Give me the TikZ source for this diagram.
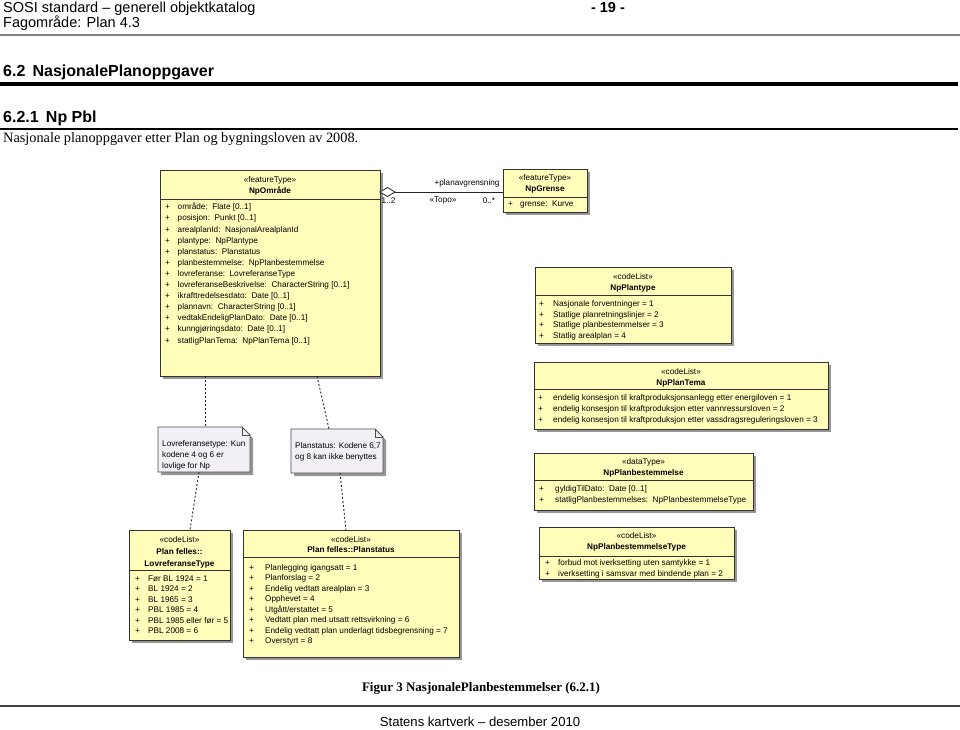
\documentclass[tikz,border=0pt]{standalone}
\usepackage{fontspec}
\setmainfont{Liberation Serif}
\setsansfont{Liberation Sans}
\newfontfamily\arialf{Liberation Sans}
\newfontfamily\tnrf{Liberation Serif}
\definecolor{clsfill}{RGB}{255,253,186}
\definecolor{notefill}{RGB}{242,240,246}
\definecolor{shadowc}{RGB}{150,150,150}
\newcommand\umlfont{\arialf\fontsize{8.2}{9}\selectfont}
\tikzset{
  umltxt/.style={font=\umlfont, inner sep=0pt},
  stereo/.style={umltxt, anchor=mid},
  cname/.style={umltxt, anchor=mid, font=\umlfont\bfseries},
  attrtxt/.style={umltxt, anchor=mid west},
  clsbox/.style={draw=black!80, line width=0.8pt, fill=clsfill, anchor=north west, inner sep=0pt, outer sep=0pt},
  clsline/.style={draw=black!80, line width=0.8pt},
  shadowfill/.style={fill=shadowc},
  notelink/.style={draw=black!85, line width=0.9pt, dash pattern=on 2pt off 2pt},
  hdr/.style={anchor=base west, inner sep=0pt},
}
% name, x, y, w, h, separator offset
\newcommand\umlclass[6]{%
  \fill[shadowfill] (#2+3,#3+3) rectangle ++(#4,#5);
  \node[clsbox, minimum width=#4pt, minimum height=#5pt] (#1) at (#2,#3) {};
  \draw[clsline] ([yshift=-#6pt]#1.north west) -- ([yshift=-#6pt]#1.north east);
}
% name, xplus, xtext, y, text
\newcommand\attrline[5]{%
  \node[attrtxt] (#1p) at (#2,#4) {+};
  \node[attrtxt] (#1) at (#3,#4) {#5};
}
% name, x1, y1, x2, y2
\newcommand\umlnote[5]{%
  \fill[shadowfill] (#2+3,#3+3) -- (#4-5,#3+3) -- (#4+3,#3+11) -- (#4+3,#5+3) -- (#2+3,#5+3) -- cycle;
  \draw[draw=black!70, line width=0.8pt, fill=notefill] (#2,#3) -- (#4-8,#3) -- (#4,#3+8) -- (#4,#5) -- (#2,#5) -- cycle;
  \draw[draw=black!70, line width=0.8pt] (#4-8,#3) -- (#4-8,#3+8) -- (#4,#3+8);
  \node[inner sep=0pt, outer sep=0pt, anchor=north west, minimum width=#4pt-#2pt, minimum height=#5pt-#3pt] (#1) at (#2,#3) {};
}
\begin{document}
\begin{tikzpicture}[x=1pt,y=-1pt]
\useasboundingbox (0,0) rectangle (960,729);
\fill[white] (0,0) rectangle (960,729);

% ---------- page header ----------
\node[hdr, font=\arialf\fontsize{14.5}{16}\selectfont] (h1) at (3,12) {SOSI standard – generell objektkatalog};
\node[hdr, font=\arialf\fontsize{14.5}{16}\selectfont] (h2) at (3,27) {Fagområde: Plan 4.3};
\node[anchor=base, inner sep=0pt, font=\arialf\bfseries\fontsize{14.5}{16}\selectfont] (pg) at (608,12) {- 19 -};
\draw[line width=2.5pt, black!50] (0,35) -- (960,35);
\node[hdr, font=\arialf\bfseries\fontsize{16}{18}\selectfont] (s62) at (3,76) {6.2\hspace{0.45em}NasjonalePlanoppgaver};
\draw[line width=4pt, black] (0,84) -- (958,84);
\node[hdr, font=\arialf\bfseries\fontsize{16}{18}\selectfont] (s621) at (3,122) {6.2.1\hspace{0.45em}Np Pbl};
\draw[line width=2.5pt, black] (0,129) -- (958,129);
\node[hdr, font=\tnrf\fontsize{14.3}{16}\selectfont] (intro) at (3,142) {Nasjonale planoppgaver etter Plan og bygningsloven av 2008.};

% ---------- NpOmråde ----------
\umlclass{omr}{160}{170}{220}{206}{29}
\node[stereo] (omrst) at (270,180.5) {«featureType»};
\node[cname] (omrnm) at (270,191) {NpOmråde};
\attrline{oa1}{165}{177.5}{207.5}{område:\ \ Flate [0..1]}
\attrline{oa2}{165}{177.5}{218.6}{posisjon:\ \ Punkt [0..1]}
\attrline{oa3}{165}{177.5}{229.7}{arealplanId:\ \ NasjonalArealplanId}
\attrline{oa4}{165}{177.5}{240.8}{plantype:\ \ NpPlantype}
\attrline{oa5}{165}{177.5}{251.9}{planstatus:\ \ Planstatus}
\attrline{oa6}{165}{177.5}{263.0}{planbestemmelse:\ \ NpPlanbestemmelse}
\attrline{oa7}{165}{177.5}{274.1}{lovreferanse:\ \ LovreferanseType}
\attrline{oa8}{165}{177.5}{285.2}{lovreferanseBeskrivelse:\ \ CharacterString [0..1]}
\attrline{oa9}{165}{177.5}{296.3}{ikrafttredelsesdato:\ \ Date [0..1]}
\attrline{oa10}{165}{177.5}{307.4}{plannavn:\ \ CharacterString [0..1]}
\attrline{oa11}{165}{177.5}{318.5}{vedtakEndeligPlanDato:\ \ Date [0..1]}
\attrline{oa12}{165}{177.5}{329.6}{kunngjøringsdato:\ \ Date [0..1]}
\attrline{oa13}{165}{177.5}{340.7}{statligPlanTema:\ \ NpPlanTema [0..1]}

% ---------- NpGrense ----------
\umlclass{gr}{503}{169}{84}{43}{28}
\node[stereo] (grst) at (545,178) {«featureType»};
\node[cname] (grnm) at (545,189) {NpGrense};
\attrline{ga1}{508}{520}{204}{grense:\ \ Kurve}

% association
\draw[line width=0.8pt, black!85] ([yshift=-22pt]omr.north east) -- ([yshift=-23pt]gr.north west);
\draw[line width=0.8pt, black!85, fill=white] ([yshift=-22pt]omr.north east) -- ++(7.5,-4.5) -- ++(7.5,4.5) -- ++(-7.5,4.5) -- cycle;
\node[stereo] (asrole) at (467,183) {+planavgrensning};
\node[stereo] (asm1) at (388.5,201.5) {1..2};
\node[stereo] (astopo) at (443,200) {«Topo»};
\node[stereo] (asm2) at (489,201.5) {0..*};

% ---------- NpPlantype ----------
\umlclass{pt}{535}{267}{196}{76}{28}
\node[stereo] (ptst) at (633,277) {«codeList»};
\node[cname] (ptnm) at (633,288) {NpPlantype};
\attrline{pa1}{539}{553}{304}{Nasjonale forventninger = 1}
\attrline{pa2}{539}{553}{314.7}{Statlige planretningslinjer = 2}
\attrline{pa3}{539}{553}{325.4}{Statlige planbestemmelser = 3}
\attrline{pa4}{539}{553}{336.1}{Statlig arealplan = 4}

% ---------- NpPlanTema ----------
\umlclass{tm}{534}{362}{294}{67}{27}
\node[stereo] (tmst) at (681,372) {«codeList»};
\node[cname] (tmnm) at (681,383) {NpPlanTema};
\attrline{ta1}{538}{553}{398}{endelig konsesjon til kraftproduksjonsanlegg etter energiloven = 1}
\attrline{ta2}{538}{553}{409}{endelig konsesjon til kraftproduksjon etter vannressursloven = 2}
\attrline{ta3}{538}{553}{420}{endelig konsesjon til kraftproduksjon etter vassdragsreguleringsloven = 3}

% ---------- NpPlanbestemmelse ----------
\umlclass{pb}{534}{453}{219}{57}{27}
\node[stereo] (pbst) at (643.5,462.5) {«dataType»};
\node[cname] (pbnm) at (643.5,473) {NpPlanbestemmelse};
\attrline{ba1}{539}{555}{489}{gyldigTilDato:\ \ Date [0..1]}
\attrline{ba2}{539}{555}{500}{statligPlanbestemmelses:\ \ NpPlanbestemmelseType}

% ---------- NpPlanbestemmelseType ----------
\umlclass{pbt}{539}{527}{195}{52}{29}
\node[stereo] (pbtst) at (636.5,536) {«codeList»};
\node[cname] (pbtnm) at (636.5,547) {NpPlanbestemmelseType};
\attrline{ca1}{545}{558}{563}{forbud mot iverksetting uten samtykke = 1}
\attrline{ca2}{545}{558}{574}{iverksetting i samsvar med bindende plan = 2}

% ---------- notes ----------
\umlnote{n1}{158}{427}{250}{472}
\node[attrtxt] (n1a) at (162,444) {Lovreferansetype: Kun};
\node[attrtxt] (n1b) at (162,455) {kodene 4 og 6 er};
\node[attrtxt] (n1c) at (162,466) {lovlige for Np};
\umlnote{n2}{291}{429}{383}{473}
\node[attrtxt] (n2a) at (295,446) {Planstatus: Kodene 6,7};
\node[attrtxt] (n2b) at (295,457) {og 8 kan ikke benyttes};

% ---------- LovreferanseType ----------
\umlclass{lr}{129}{530}{101}{110}{40}
\node[stereo] (lrst) at (179.5,540) {«codeList»};
\node[cname] (lrnm1) at (179.5,552) {Plan felles::};
\node[cname] (lrnm2) at (179.5,564) {LovreferanseType};
\attrline{la1}{135}{148}{579}{Før BL 1924 = 1}
\attrline{la2}{135}{148}{589.5}{BL 1924 = 2}
\attrline{la3}{135}{148}{600}{BL 1965 = 3}
\attrline{la4}{135}{148}{610.5}{PBL 1985 = 4}
\attrline{la5}{135}{148}{621}{PBL 1985 eller før = 5}
\attrline{la6}{135}{148}{631.5}{PBL 2008 = 6}

% ---------- Planstatus ----------
\umlclass{ps}{243}{530}{216}{127}{27}
\node[stereo] (psst) at (351,540) {«codeList»};
\node[cname] (psnm) at (351,550) {Plan felles::Planstatus};
\attrline{sa1}{249}{265}{568}{Planlegging igangsatt = 1}
\attrline{sa2}{249}{265}{578.5}{Planforslag = 2}
\attrline{sa3}{249}{265}{589}{Endelig vedtatt arealplan = 3}
\attrline{sa4}{249}{265}{599.5}{Opphevet = 4}
\attrline{sa5}{249}{265}{610}{Utgått/erstattet = 5}
\attrline{sa6}{249}{265}{620.5}{Vedtatt plan med utsatt rettsvirkning = 6}
\attrline{sa7}{249}{265}{631}{Endelig vedtatt plan underlagt tidsbegrensning = 7}
\attrline{sa8}{249}{265}{641.5}{Overstyrt = 8}

% ---------- note links ----------
\draw[notelink] ([xshift=45pt]omr.south west) -- ([xshift=47pt]n1.north west);
\draw[notelink] ([xshift=157pt]omr.south west) -- ([xshift=38pt]n2.north west);
\draw[notelink] ([xshift=41pt]n1.south west) -- ([xshift=61pt]lr.north west);
\draw[notelink] ([xshift=49pt]n2.south west) -- ([xshift=103pt]ps.north west);

% ---------- caption & footer ----------
\node[anchor=base, inner sep=0pt, font=\tnrf\bfseries\fontsize{13}{15}\selectfont] (cap) at (481,691) {Figur 3 NasjonalePlanbestemmelser (6.2.1)};
\draw[line width=1.2pt, black!75] (0,706) -- (960,706);
\node[anchor=base, inner sep=0pt, font=\arialf\fontsize{13.1}{15}\selectfont] (foot) at (480,726) {Statens kartverk – desember 2010};
\end{tikzpicture}
\end{document}
